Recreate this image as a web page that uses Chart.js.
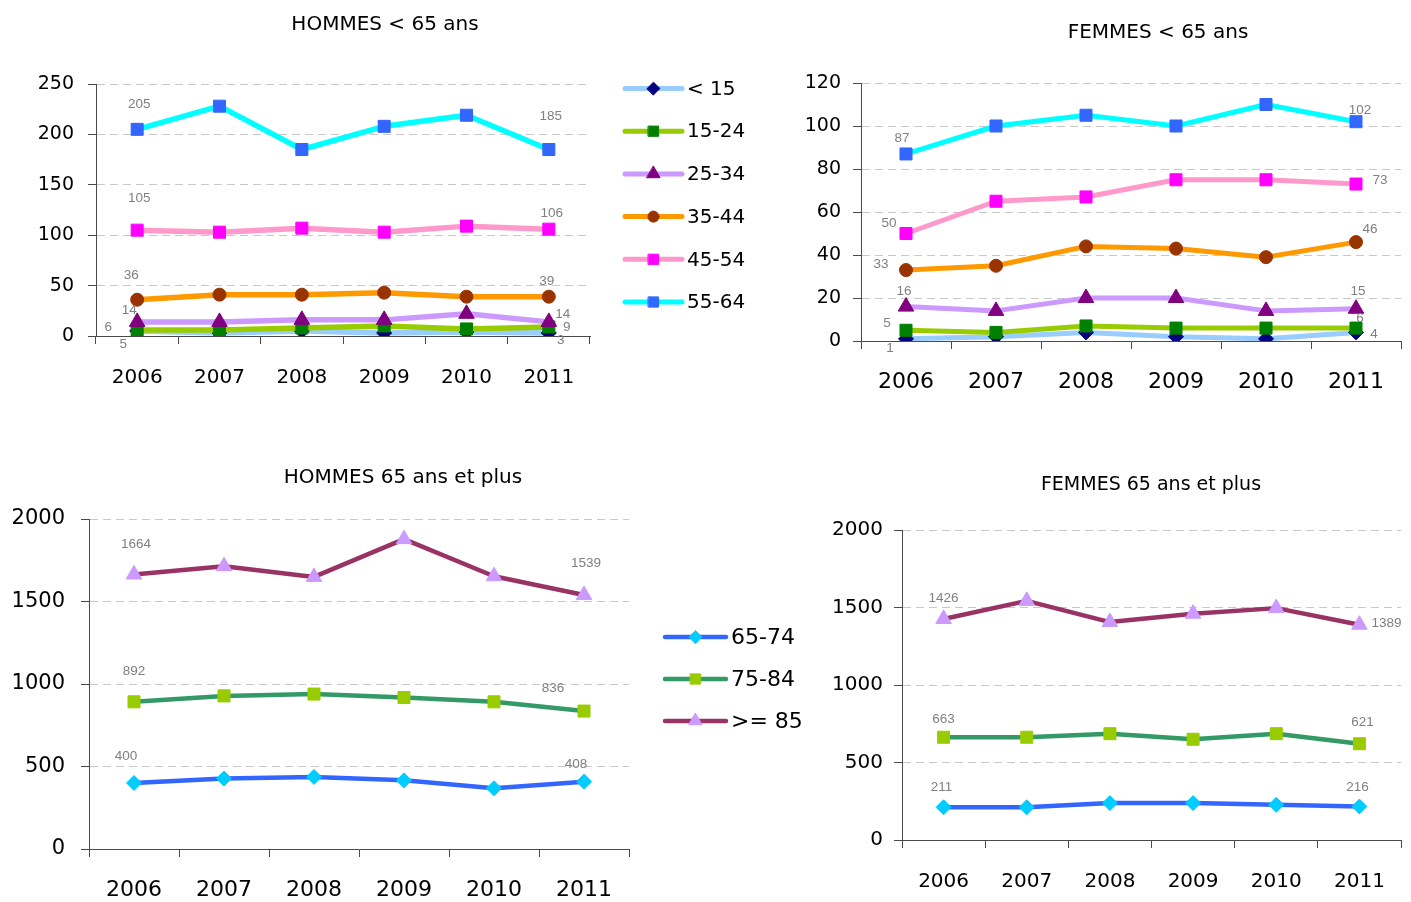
<!DOCTYPE html>
<html>
<head>
<meta charset="utf-8">
<title>Effectifs par classe d'âge 2006-2011</title>
<script src="https://cdn.jsdelivr.net/npm/chart.js@4.4.1/dist/chart.umd.min.js"></script>
<style>
  html, body { margin: 0; padding: 0; background: #ffffff; width: 1411px; height: 902px; overflow: hidden; }
  canvas { position: absolute; }
</style>
</head>
<body>
<canvas id="hommesMoins65" width="780" height="415" style="left:0px;top:0px"></canvas>
<canvas id="femmesMoins65" width="631" height="415" style="left:780px;top:0px"></canvas>
<canvas id="hommesPlus65" width="820" height="472" style="left:0px;top:430px"></canvas>
<canvas id="femmesPlus65" width="591" height="472" style="left:820px;top:430px"></canvas>
<script>
// ---- Catégories ----
const years = ['2006', '2007', '2008', '2009', '2010', '2011'];
const groupsUnder65 = ['< 15', '15-24', '25-34', '35-44', '45-54', '55-64'];
const groups65Plus = ['65-74', '75-84', '>= 85'];

// ---- Hommes < 65 ans ----
const hommesLt15  = [5, 3, 5, 3, 4, 3];
const hommes15_24 = [6, 6, 8, 10, 7, 9];
const hommes25_34 = [14, 14, 16, 16, 22, 14];
const hommes35_44 = [36, 41, 41, 43, 39, 39];
const hommes45_54 = [105, 103, 107, 103, 109, 106];
const hommes55_64 = [205, 228, 185, 208, 219, 185];

// ---- Femmes < 65 ans ----
const femmesLt15  = [1, 2, 4, 2, 1, 4];
const femmes15_24 = [5, 4, 7, 6, 6, 6];
const femmes25_34 = [16, 14, 20, 20, 14, 15];
const femmes35_44 = [33, 35, 44, 43, 39, 46];
const femmes45_54 = [50, 65, 67, 75, 75, 73];
const femmes55_64 = [87, 100, 105, 100, 110, 102];

// ---- Hommes 65 ans et plus ----
const hommes65_74 = [400, 427, 437, 416, 368, 408];
const hommes75_84 = [892, 928, 939, 918, 892, 836];
const hommes85p   = [1664, 1714, 1649, 1878, 1653, 1539];

// ---- Femmes 65 ans et plus ----
const femmes65_74 = [211, 211, 238, 238, 227, 216];
const femmes75_84 = [663, 663, 686, 650, 686, 621];
const femmes85p   = [1426, 1543, 1406, 1460, 1496, 1389];

// ---- Graduations des axes Y ----
const yTicksHommesU65 = [0, 50, 100, 150, 200, 250];
const yTicksFemmesU65 = [0, 20, 40, 60, 80, 100, 120];
const yTicks65Plus    = [0, 500, 1000, 1500, 2000];

// ---- Styles ----
const FONT = "'DejaVu Sans', sans-serif";
const LABEL_FONT = "'Liberation Sans', Arial, sans-serif";
const AXIS = '#4a4a4a';

const styleUnder65 = [
  { line: '#99CCFF', mark: '#000080', shape: 'rectRot',  r: 7.5 },
  { line: '#99CC00', mark: '#008000', shape: 'rect',     r: 8.5 },
  { line: '#CC99FF', mark: '#800080', shape: 'triangle', r: 9 },
  { line: '#FF9900', mark: '#993300', shape: 'circle',   r: 6.5 },
  { line: '#FF99CC', mark: '#FF00FF', shape: 'rect',     r: 8.5 },
  { line: '#00FFFF', mark: '#3366FF', shape: 'rect',     r: 8.5 }
];
const style65Plus = [
  { line: '#3366FF', mark: '#00CCFF', shape: 'rectRot',  r: 7.5 },
  { line: '#339966', mark: '#99CC00', shape: 'rect',     r: 8.5 },
  { line: '#993366', mark: '#CC99FF', shape: 'triangle', r: 9 }
];

// Décalage (dx, dy) des étiquettes de valeur de la première et de la dernière année
const endLabelOffsetsHU65 = [[[-14, 13], [12, 7]], [[-29, -3], [18, 0]], [[-8, -12], [14, -8]],
                             [[-6, -24], [-2, -15]], [[2, -32], [3, -16]], [[2, -25], [2, -33]]];
const endLabelOffsetsFU65 = [[[-16, 9], [18, 2]], [[-19, -7], [4, -10]], [[-2, -15], [2, -17]],
                             [[-25, -6], [14, -13]], [[-17, -10], [24, -4]], [[-4, -16], [4, -11]]];
const endLabelOffsetsH65  = [[[-8, -27], [-8, -17]], [[0, -31], [-31, -23]], [[2, -30], [2, -32]]];
const endLabelOffsetsF65  = [[[-2, -20], [-2, -19]], [[0, -18], [3, -21]], [[0, -21], [27, -1]]];

// ---- Plugins ----
const panelTitle = {
  id: 'panelTitle',
  afterDraw(chart, args, opts) {
    const ctx = chart.ctx;
    ctx.save();
    ctx.font = opts.size + 'px ' + FONT;
    ctx.fillStyle = '#000000';
    ctx.textAlign = 'center';
    ctx.textBaseline = 'middle';
    ctx.fillText(opts.text, opts.x, opts.y);
    ctx.restore();
  }
};

function drawMarker(ctx, st, r, x, y) {
  ctx.fillStyle = st.mark;
  ctx.strokeStyle = st.mark;
  ctx.lineWidth = 1;
  const pointOpts = { pointStyle: st.shape, radius: r, rotation: 0, borderWidth: 1 };
  if (Chart.helpers && Chart.helpers.drawPoint) {
    Chart.helpers.drawPoint(ctx, pointOpts, x, y);
  } else {
    const pt = new Chart.PointElement({});
    pt.x = x; pt.y = y;
    pt.options = Object.assign({ backgroundColor: st.mark, borderColor: st.mark }, pointOpts);
    pt.draw(ctx);
  }
}

const seriesKey = {
  id: 'seriesKey',
  afterDraw(chart, args, opts) {
    if (!opts.display) return;
    const ctx = chart.ctx;
    ctx.save();
    chart.data.datasets.forEach((ds, i) => {
      const st = opts.styles[i];
      const y = opts.y + i * opts.step;
      ctx.beginPath();
      ctx.lineCap = 'round';
      ctx.lineWidth = opts.lineWidth;
      ctx.strokeStyle = st.line;
      ctx.moveTo(opts.x, y);
      ctx.lineTo(opts.x + opts.len, y);
      ctx.stroke();
      drawMarker(ctx, st, st.r * 0.85, opts.x + opts.len / 2, y);
      ctx.font = opts.size + 'px ' + FONT;
      ctx.fillStyle = '#000000';
      ctx.textAlign = 'left';
      ctx.textBaseline = 'middle';
      ctx.fillText(ds.label, opts.x + opts.len + opts.gap, y + 1);
    });
    ctx.restore();
  }
};

const endLabels = {
  id: 'endLabels',
  afterDatasetsDraw(chart, args, opts) {
    const ctx = chart.ctx;
    ctx.save();
    ctx.font = '13.5px ' + LABEL_FONT;
    ctx.fillStyle = '#808080';
    ctx.textAlign = 'center';
    ctx.textBaseline = 'middle';
    chart.data.datasets.forEach((ds, d) => {
      const meta = chart.getDatasetMeta(d);
      const idx = [0, ds.data.length - 1];
      idx.forEach((i, k) => {
        const el = meta.data[i];
        const off = opts.offsets[d][k];
        ctx.fillText(String(ds.data[i]), el.x + off[0], el.y + off[1]);
      });
    });
    ctx.restore();
  }
};

function makeChart(id, o) {
  const datasets = o.series.map((data, i) => ({
    label: o.names[i],
    data: data,
    borderColor: o.styles[i].line,
    backgroundColor: o.styles[i].mark,
    borderWidth: o.lineWidth,
    borderJoinStyle: 'round',
    borderCapStyle: 'round',
    tension: 0,
    fill: false,
    pointStyle: o.styles[i].shape,
    pointRadius: o.styles[i].r,
    pointBackgroundColor: o.styles[i].mark,
    pointBorderColor: o.styles[i].mark,
    pointBorderWidth: 1,
    order: o.series.length - 1 - i
  }));
  const yt = o.yTicks;
  return new Chart(document.getElementById(id), {
    type: 'line',
    data: { labels: years, datasets: datasets },
    options: {
      responsive: false,
      animation: false,
      devicePixelRatio: 1,
      events: [],
      layout: { padding: { left: 0, right: o.padRight, top: o.padTop, bottom: 0 } },
      scales: {
        x: {
          offset: true,
          grid: { display: true, drawOnChartArea: false, drawTicks: true, tickLength: 8, offset: true,
                  color: AXIS, tickColor: AXIS, lineWidth: 1, tickBorderDash: [] },
          border: { display: true, color: AXIS, width: 1 },
          ticks: { font: { family: FONT, size: o.xFont, lineHeight: 1.2 }, color: '#000000',
                   padding: o.xPad, maxRotation: 0, minRotation: 0, autoSkip: false },
          afterFit: s => { s.height = o.xHeight; }
        },
        y: {
          min: yt[0],
          max: yt[yt.length - 1],
          ticks: { stepSize: yt[1] - yt[0], font: { family: FONT, size: o.yFont, lineHeight: 1.2 },
                   color: '#000000', padding: o.yPad, callback: v => String(v) },
          grid: { drawTicks: true, tickLength: 8, lineWidth: 1, tickColor: AXIS, tickBorderDash: [],
                  color: c => (c.tick && c.tick.value === 0) ? 'rgba(0,0,0,0)' : '#c8c8c8' },
          border: { display: true, color: AXIS, width: 1, dash: [8, 5] },
          afterFit: s => { s.width = o.yWidth; }
        }
      },
      plugins: {
        legend: { display: false },
        tooltip: { enabled: false },
        panelTitle: o.title,
        seriesKey: o.key || { display: false },
        endLabels: { offsets: o.offsets }
      }
    },
    plugins: [panelTitle, seriesKey, endLabels]
  });
}

// HOMMES < 65 ans
makeChart('hommesMoins65', {
  series: [hommesLt15, hommes15_24, hommes25_34, hommes35_44, hommes45_54, hommes55_64],
  names: groupsUnder65, styles: styleUnder65, yTicks: yTicksHommesU65,
  lineWidth: 5.5, padTop: 84, padRight: 190, yWidth: 96, xHeight: 79,
  xFont: 20, xPad: 22, yFont: 19, yPad: 14,
  title: { text: 'HOMMES < 65 ans', x: 385, y: 25, size: 20 },
  key: { display: true, styles: styleUnder65, x: 625, y: 88.5, step: 42.7, len: 57, gap: 5, size: 20, lineWidth: 5 },
  offsets: endLabelOffsetsHU65
});

// FEMMES < 65 ans
makeChart('femmesMoins65', {
  series: [femmesLt15, femmes15_24, femmes25_34, femmes35_44, femmes45_54, femmes55_64],
  names: groupsUnder65, styles: styleUnder65, yTicks: yTicksFemmesU65,
  lineWidth: 5, padTop: 83, padRight: 3, yWidth: 81, xHeight: 74,
  xFont: 22, xPad: 20, yFont: 19, yPad: 12,
  title: { text: 'FEMMES < 65 ans', x: 378, y: 33, size: 20 },
  offsets: endLabelOffsetsFU65
});

// HOMMES 65 ans et plus
makeChart('hommesPlus65', {
  series: [hommes65_74, hommes75_84, hommes85p],
  names: groups65Plus, styles: style65Plus, yTicks: yTicks65Plus,
  lineWidth: 4.5, padTop: 89, padRight: 191, yWidth: 89, xHeight: 53,
  xFont: 22, xPad: 20, yFont: 21, yPad: 16,
  title: { text: 'HOMMES 65 ans et plus', x: 403, y: 48, size: 20 },
  key: { display: true, styles: style65Plus, x: 665, y: 207, step: 42, len: 61, gap: 5, size: 22, lineWidth: 4.5 },
  offsets: endLabelOffsetsH65
});

// FEMMES 65 ans et plus
makeChart('femmesPlus65', {
  series: [femmes65_74, femmes75_84, femmes85p],
  names: groups65Plus, styles: style65Plus, yTicks: yTicks65Plus,
  lineWidth: 4.5, padTop: 100, padRight: 3, yWidth: 82, xHeight: 62,
  xFont: 20, xPad: 22, yFont: 20, yPad: 11,
  title: { text: 'FEMMES 65 ans et plus', x: 331, y: 55, size: 19 },
  offsets: endLabelOffsetsF65
});
</script>
</body>
</html>
